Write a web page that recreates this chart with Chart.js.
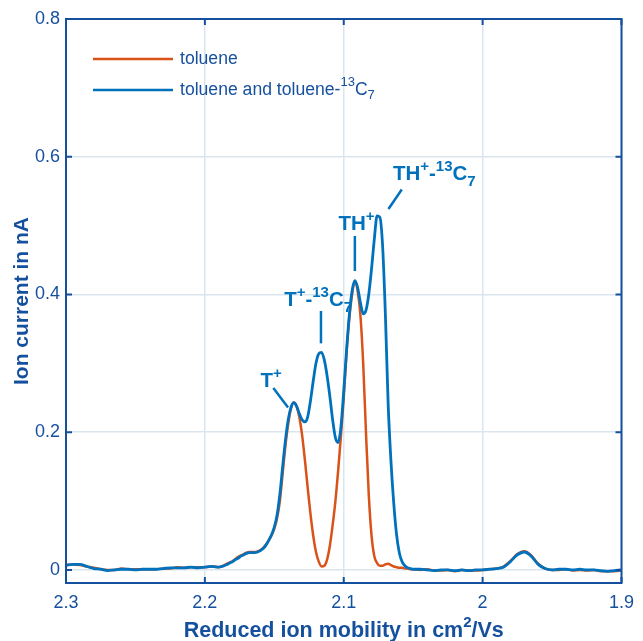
<!DOCTYPE html>
<html>
<head>
<meta charset="utf-8">
<script src="https://cdn.jsdelivr.net/npm/chart.js@4.4.1/dist/chart.umd.min.js"></script>
<style>
  body { margin: 0; background: #fff; }
  #wrap { width: 643px; height: 641px; }
</style>
</head>
<body>
<div id="wrap"><canvas id="graphCanvas" width="643" height="641"></canvas></div>
<script>
// Reduced ion mobility (cm^2/Vs)
const mobility = [
  2.300, 2.295, 2.290, 2.285, 2.280, 2.275, 2.270, 2.265, 2.260, 2.255,
  2.250, 2.245, 2.240, 2.235, 2.230, 2.225, 2.220, 2.215, 2.210, 2.205,
  2.200, 2.195, 2.190,
  2.188, 2.186, 2.184, 2.182, 2.180, 2.178, 2.176, 2.174, 2.172, 2.170,
  2.168, 2.166, 2.164, 2.162, 2.160, 2.158, 2.156, 2.154, 2.152, 2.150,
  2.148, 2.146, 2.144, 2.142, 2.140, 2.138, 2.136, 2.134, 2.132, 2.130,
  2.128, 2.126, 2.124, 2.122, 2.120, 2.118, 2.116, 2.114, 2.112, 2.110,
  2.108, 2.106, 2.104, 2.102, 2.100, 2.098, 2.096, 2.094, 2.092, 2.090,
  2.088, 2.086, 2.084, 2.082, 2.080, 2.078, 2.076, 2.074, 2.072, 2.070,
  2.068, 2.066, 2.064, 2.062, 2.060, 2.058, 2.056, 2.054, 2.052, 2.050,
  2.045, 2.040, 2.035, 2.030, 2.025, 2.020, 2.015, 2.010, 2.005, 2.000,
  1.995, 1.990, 1.985, 1.980, 1.975, 1.970, 1.965, 1.960, 1.955, 1.950,
  1.945, 1.940, 1.935, 1.930, 1.925, 1.920, 1.915, 1.910, 1.905, 1.900
];

// Ion current (nA), toluene only
const toluene = [
  0.007, 0.008, 0.007, 0.005, 0.003, 0.001, 0.000, 0.000, 0.002, 0.001,
  0.001, 0.001, 0.001, 0.001, 0.002, 0.002, 0.004, 0.003, 0.004, 0.004,
  0.004, 0.005, 0.004,
  0.005, 0.007, 0.009, 0.011, 0.013, 0.016, 0.019, 0.021, 0.023, 0.025,
  0.026, 0.026, 0.026, 0.027, 0.029, 0.032, 0.037, 0.043, 0.050, 0.060,
  0.075, 0.100, 0.140, 0.180, 0.212, 0.234, 0.243, 0.238, 0.222, 0.196,
  0.160, 0.120, 0.082, 0.050, 0.026, 0.012, 0.005, 0.006, 0.015, 0.035,
  0.065, 0.100, 0.145, 0.195, 0.250, 0.315, 0.365, 0.400, 0.420, 0.405,
  0.370, 0.300, 0.200, 0.110, 0.050, 0.020, 0.010, 0.006, 0.006, 0.008,
  0.009, 0.007, 0.005, 0.004, 0.003, 0.003, 0.002, 0.002, 0.001, 0.001,
  0.000, 0.001, -0.001, -0.001, 0.000, -0.002, 0.000, -0.001, -0.001, 0.000,
  0.001, 0.002, 0.005, 0.013, 0.023, 0.027, 0.021, 0.009, 0.002, 0.000,
  0.000, 0.001, -0.001, 0.000, -0.001, 0.000, -0.002, -0.002, -0.002, -0.001
];

// Ion current (nA), toluene and toluene-13C7
const tolueneMix = [
  0.007, 0.008, 0.008, 0.005, 0.002, 0.001, -0.001, 0.000, 0.001, 0.001,
  0.000, 0.001, 0.001, 0.001, 0.002, 0.003, 0.003, 0.003, 0.004, 0.003,
  0.004, 0.005, 0.004,
  0.005, 0.006, 0.008, 0.010, 0.012, 0.015, 0.017, 0.020, 0.022, 0.024,
  0.025, 0.025, 0.025, 0.026, 0.028, 0.031, 0.036, 0.043, 0.051, 0.062,
  0.080, 0.110, 0.150, 0.188, 0.218, 0.236, 0.243, 0.238, 0.227, 0.218,
  0.215, 0.222, 0.245, 0.274, 0.300, 0.314, 0.316, 0.305, 0.282, 0.252,
  0.218, 0.192, 0.185, 0.208, 0.260, 0.318, 0.370, 0.405, 0.420, 0.410,
  0.388, 0.372, 0.377, 0.400, 0.437, 0.480, 0.514, 0.512, 0.470, 0.370,
  0.240, 0.158, 0.097, 0.052, 0.025, 0.012, 0.006, 0.003, 0.002, 0.001,
  0.001, 0.000, -0.001, 0.000, 0.000, -0.001, 0.000, -0.001, 0.000, 0.000,
  0.001, 0.002, 0.004, 0.012, 0.022, 0.026, 0.020, 0.008, 0.002, 0.000,
  0.001, 0.001, 0.000, 0.001, 0.000, 0.000, -0.001, -0.002, -0.001, 0.000
];

const xTickVals = [2.3, 2.2, 2.1, 2.0, 1.9];
const xTickLabels = ['2.3', '2.2', '2.1', '2', '1.9'];
const yTickVals = [0, 0.2, 0.4, 0.6, 0.8];
const yTickLabels = ['0', '0.2', '0.4', '0.6', '0.8'];

// rich-text pieces: n = normal, sup, sub
const legendItems = [
  { color: '#D95319', parts: [['toluene', 'n']] },
  { color: '#0072BD', parts: [['toluene and toluene-', 'n'], ['13', 'sup'], ['C', 'n'], ['7', 'sub']] }
];

// peak labels: text anchor (x, y) and pointer line, all in data units
const peakLabels = [
  { parts: [['T', 'n'], ['+', 'sup']], at: [2.160, 0.265], line: [2.1507, 0.264, 2.1401, 0.236] },
  { parts: [['T', 'n'], ['+', 'sup'], ['-', 'n'], ['13', 'sup'], ['C', 'n'], ['7', 'sub']], at: [2.1429, 0.383], line: [2.1164, 0.376, 2.1164, 0.329] },
  { parts: [['TH', 'n'], ['+', 'sup']], at: [2.1038, 0.494], line: [2.0920, 0.485, 2.0920, 0.434] },
  { parts: [['TH', 'n'], ['+', 'sup'], ['-', 'n'], ['13', 'sup'], ['C', 'n'], ['7', 'sub']], at: [2.0646, 0.566], line: [2.0582, 0.5525, 2.0678, 0.524] }
];

const axisColor = '#15509e';
const gridColor = '#dbe5f0';
const fontFamily = '"Liberation Sans", Arial, Helvetica, sans-serif';

const richFont = (p, size, bold) => {
  const fs = p[1] === 'n' ? size : Math.round(size * 0.72);
  return (bold ? 'bold ' : '') + fs + 'px ' + fontFamily;
};

const measureRich = (ctx, parts, size, bold) => {
  let w = 0;
  parts.forEach(p => { ctx.font = richFont(p, size, bold); w += ctx.measureText(p[0]).width; });
  return w;
};

const drawRich = (ctx, parts, x, y, size, bold) => {
  let cx = x;
  parts.forEach(p => {
    ctx.font = richFont(p, size, bold);
    const dy = p[1] === 'sup' ? -size * 0.45 : p[1] === 'sub' ? size * 0.28 : 0;
    ctx.fillText(p[0], cx, y + dy);
    cx += ctx.measureText(p[0]).width;
  });
};

// Box, inward ticks, legend, titles and peak labels
const decorations = {
  id: 'decorations',
  afterDatasetsDraw(chart) {
    const ctx = chart.ctx;
    const a = chart.chartArea;
    const xs = chart.scales.x, ys = chart.scales.y;
    ctx.save();

    // peak labels
    ctx.fillStyle = '#0072BD';
    ctx.strokeStyle = '#0072BD';
    ctx.lineWidth = 2.5;
    ctx.textBaseline = 'alphabetic';
    ctx.textAlign = 'left';
    peakLabels.forEach(lb => {
      drawRich(ctx, lb.parts, xs.getPixelForValue(lb.at[0]), ys.getPixelForValue(lb.at[1]), 20.5, true);
      ctx.beginPath();
      ctx.moveTo(xs.getPixelForValue(lb.line[0]), ys.getPixelForValue(lb.line[1]));
      ctx.lineTo(xs.getPixelForValue(lb.line[2]), ys.getPixelForValue(lb.line[3]));
      ctx.stroke();
    });

    // box
    ctx.strokeStyle = axisColor;
    ctx.lineWidth = 2;
    ctx.strokeRect(a.left, a.top, a.right - a.left, a.bottom - a.top);

    // inward ticks
    ctx.beginPath();
    xTickVals.forEach(v => {
      const px = xs.getPixelForValue(v);
      ctx.moveTo(px, a.bottom); ctx.lineTo(px, a.bottom - 6);
      ctx.moveTo(px, a.top); ctx.lineTo(px, a.top + 6);
    });
    yTickVals.forEach(v => {
      const py = ys.getPixelForValue(v);
      ctx.moveTo(a.left, py); ctx.lineTo(a.left + 6, py);
      ctx.moveTo(a.right, py); ctx.lineTo(a.right - 6, py);
    });
    ctx.stroke();

    // legend
    ctx.textBaseline = 'middle';
    legendItems.forEach((it, i) => {
      const ly = a.top + 40 + i * 31;
      ctx.strokeStyle = it.color;
      ctx.lineWidth = 2.5;
      ctx.beginPath();
      ctx.moveTo(a.left + 27, ly);
      ctx.lineTo(a.left + 107, ly);
      ctx.stroke();
      ctx.fillStyle = axisColor;
      drawRich(ctx, it.parts, a.left + 114, ly, 17.6, false);
    });

    // x title
    ctx.fillStyle = axisColor;
    ctx.textBaseline = 'alphabetic';
    const xTitle = [['Reduced ion mobility in cm', 'n'], ['2', 'sup'], ['/Vs', 'n']];
    const w = measureRich(ctx, xTitle, 21.5, true);
    drawRich(ctx, xTitle, (a.left + a.right) / 2 - w / 2, 637, 21.5, true);

    // y title
    ctx.save();
    ctx.translate(28, (a.top + a.bottom) / 2);
    ctx.rotate(-Math.PI / 2);
    ctx.textAlign = 'center';
    ctx.font = 'bold 21px ' + fontFamily;
    ctx.fillText('Ion current in nA', 0, 0);
    ctx.restore();

    ctx.restore();
  }
};

const toPoints = ys => mobility.map((x, i) => ({ x: x, y: ys[i] }));

new Chart(document.getElementById('graphCanvas').getContext('2d'), {
  type: 'line',
  data: {
    datasets: [
      {
        label: 'toluene',
        data: toPoints(toluene),
        borderColor: '#D95319',
        borderWidth: 2.5,
        pointRadius: 0,
        cubicInterpolationMode: 'monotone',
        order: 1
      },
      {
        label: 'toluene and toluene-13C7',
        data: toPoints(tolueneMix),
        borderColor: '#0072BD',
        borderWidth: 2.8,
        pointRadius: 0,
        cubicInterpolationMode: 'monotone',
        order: 0
      }
    ]
  },
  options: {
    responsive: false,
    animation: false,
    layout: { padding: { top: 19, right: 16, left: 0, bottom: 0 } },
    plugins: { legend: { display: false }, tooltip: { enabled: false } },
    scales: {
      x: {
        type: 'linear',
        reverse: true,
        min: 1.9,
        max: 2.3,
        afterBuildTicks: s => { s.ticks = xTickVals.map(v => ({ value: v })); },
        afterFit: s => { s.height = 58; },
        border: { display: false },
        grid: { color: gridColor, lineWidth: 1.5, drawTicks: false },
        ticks: {
          color: axisColor,
          padding: 9,
          maxRotation: 0,
          font: { family: fontFamily, size: 18 },
          callback: (v, i) => xTickLabels[i]
        }
      },
      y: {
        min: -0.019,
        max: 0.8,
        afterBuildTicks: s => { s.ticks = yTickVals.map(v => ({ value: v })); },
        afterFit: s => { s.width = 66; },
        border: { display: false },
        grid: { color: gridColor, lineWidth: 1.5, drawTicks: false },
        ticks: {
          color: axisColor,
          padding: 6,
          font: { family: fontFamily, size: 18 },
          callback: (v, i) => yTickLabels[i]
        }
      }
    }
  },
  plugins: [decorations]
});
</script>
</body>
</html>
